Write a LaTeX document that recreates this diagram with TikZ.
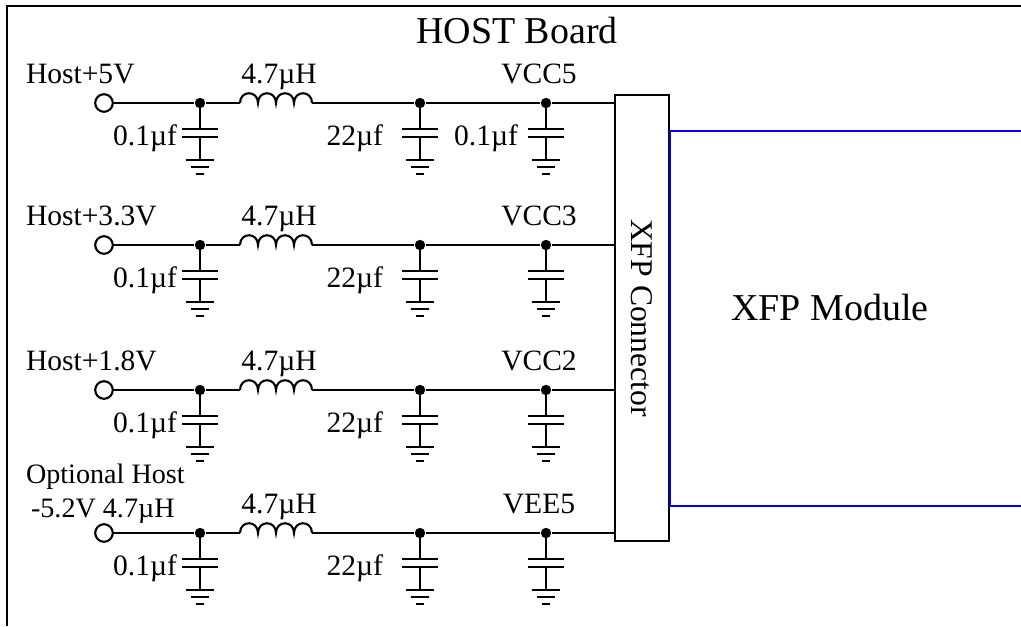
\documentclass[tikz,border=0pt]{standalone}
\usepackage{fontspec}
\setmainfont{Liberation Serif}
\usetikzlibrary{positioning}

\tikzset{
  capgnd/.pic={
    \draw (0,0) -- (0,26) (-18,26) -- (18,26) (-18,34) -- (18,34) (0,34) -- (0,57)
      (-14,57) -- (14,57) (-9,64) -- (9,64) (-4,71) -- (4,71);
  },
  coil/.pic={
    \draw (0,0) .. controls (0,-13) and (18,-13) .. (18,0)
      .. controls (18,-13) and (36,-13) .. (36,0)
      .. controls (36,-13) and (54,-13) .. (54,0)
      .. controls (54,-13) and (72,-13) .. (72,0);
  }
}

\begin{document}
\begin{tikzpicture}[x=0.025cm, y=-0.025cm, line width=1.5pt,
  lbl/.style={font=\fontsize{21}{24}\selectfont, inner sep=0pt},
  big/.style={font=\fontsize{27}{30}\selectfont, inner sep=0pt},
  term/.style={draw, circle, inner sep=0pt, minimum size=0.44cm},
  dot/.style={circle, fill, inner sep=0pt, minimum size=0.26cm}]

  \useasboundingbox (0,0) rectangle (1021,626);

  %Board
  \draw (7,626) -- (7,6) -- (1021,6);
  \node[big, anchor=base] (HostBoard) at (517,43) {HOST Board};

  %Connector and module
  \node (XFPConnector) at (642,318) [draw, inner sep=0pt, minimum width=1.35cm,
    minimum height=11.15cm, font=\fontsize{22.5}{26}\selectfont]{\rotatebox{-90}{XFP Connector}};
  \coordinate (ModTop) at (1021,131);
  \coordinate (ModBot) at (1021,506);
  \draw[blue] (ModTop) -- (XFPConnector.east |- ModTop) -- (XFPConnector.east |- ModBot) -- (ModBot);
  \node[big, anchor=base] (XFPModule) at (830,320) {XFP Module};

  %Rails
  \foreach \name/\y/\rail in {A/103/VCC5, B/245/VCC3, C/390/VCC2, D/533/VEE5}{
    \node[term] (In\name) at (104,\y) {};
    \node[dot] (Da\name) at (200,\y) {};
    \coordinate (La\name) at (240,\y);
    \coordinate (Lb\name) at (312,\y);
    \node[dot] (Db\name) at (420,\y) {};
    \node[dot] (Dc\name) at (546,\y) {};
    \draw (In\name) -- (Da\name) -- (La\name);
    \pic at (La\name) {coil};
    \draw (Lb\name) -- (Db\name) -- (Dc\name) -- (XFPConnector.west |- Dc\name);
    \pic at (Da\name) {capgnd};
    \pic at (Db\name) {capgnd};
    \pic at (Dc\name) {capgnd};
    \node[lbl, anchor=base] at (279,\y-20) {4.7µH};
    \node[lbl, anchor=base] at (539,\y-20) {\rail};
    \node[lbl, anchor=base east] at (178,\y+42) {0.1µf};
    \node[lbl, anchor=base east] at (384,\y+42) {22µf};
  }

  %Variables
  \node[lbl, anchor=base west] at (25,83) {Host+5V};
  \node[lbl, anchor=base west] at (25,225) {Host+3.3V};
  \node[lbl, anchor=base west] at (25,370) {Host+1.8V};
  \node[lbl, anchor=base west, font=\fontsize{20}{23}\selectfont] at (25,483) {Optional Host};
  \node[lbl, anchor=base west, font=\fontsize{20}{23}\selectfont] at (30,517) {-5.2V 4.7µH};
  \node[lbl, anchor=base east] at (519,145) {0.1µf};

\end{tikzpicture}
\end{document}
